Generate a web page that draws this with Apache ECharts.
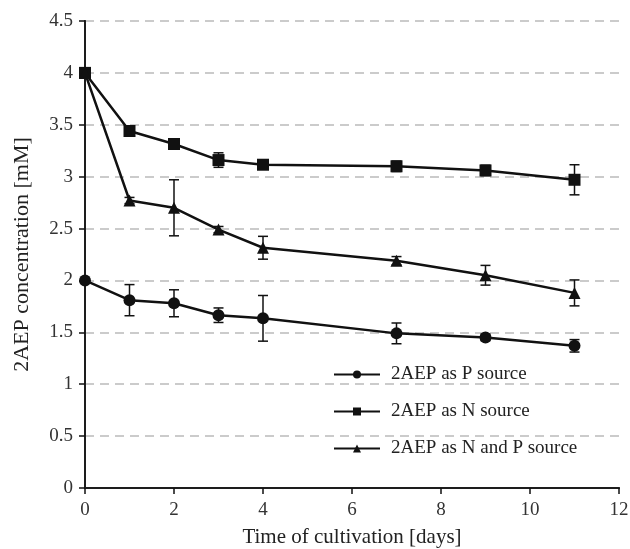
<!DOCTYPE html>
<html><head><meta charset="utf-8">
<script src="https://cdn.jsdelivr.net/npm/echarts@6/dist/echarts.min.js"></script>
<style>html,body{margin:0;padding:0;background:#fff}#c{width:630px;height:549px}</style>
</head><body><div id="c"></div>
<script>
const days = [0, 1, 2, 3, 4, 7, 9, 11];
const pSource = [2.0, 1.81, 1.78, 1.665, 1.635, 1.49, 1.45, 1.37];
const pErr = [0, 0.15, 0.13, 0.07, 0.22, 0.10, 0.03, 0.06];
const nSource = [4.0, 3.44, 3.315, 3.16, 3.115, 3.10, 3.06, 2.97];
const nErr = [0, 0.02, 0.03, 0.07, 0.03, 0.05, 0.05, 0.145];
const npSource = [4.0, 2.77, 2.70, 2.49, 2.315, 2.19, 2.05, 1.88];
const npErr = [0, 0.03, 0.27, 0.03, 0.11, 0.04, 0.095, 0.125];
const seriesNames = ['2AEP as P source', '2AEP as N source', '2AEP as N and P source'];
const xTicks = [0, 2, 4, 6, 8, 10, 12];
const yTicks = [0, 0.5, 1, 1.5, 2, 2.5, 3, 3.5, 4, 4.5];

const font = 'Liberation Serif';
const chart = echarts.init(document.getElementById('c'));

function pairs(vals) { return days.map((d, i) => [d, vals[i]]); }
function errData(vals, errs) {
  return days.map((d, i) => [d, vals[i] - errs[i], vals[i] + errs[i]]).filter((r, i) => errs[i] > 0);
}
function errSeries(vals, errs) {
  return {
    type: 'custom', silent: true, z: 3,
    data: errData(vals, errs),
    renderItem: function (params, api) {
      const x = api.value(0);
      const lo = api.coord([x, api.value(1)]);
      const hi = api.coord([x, api.value(2)]);
      const w = 5;
      const st = { stroke: '#111', lineWidth: 1.5 };
      return { type: 'group', children: [
        { type: 'line', shape: { x1: lo[0], y1: lo[1], x2: hi[0], y2: hi[1] }, style: st },
        { type: 'line', shape: { x1: lo[0] - w, y1: lo[1], x2: lo[0] + w, y2: lo[1] }, style: st },
        { type: 'line', shape: { x1: hi[0] - w, y1: hi[1], x2: hi[0] + w, y2: hi[1] }, style: st }
      ]};
    }
  };
}
function lineSeries(name, vals, symbol, size) {
  return {
    name: name, type: 'line', data: pairs(vals), symbol: symbol, symbolSize: size,
    lineStyle: { color: '#111', width: 2.5 }, itemStyle: { color: '#111' }, z: 4
  };
}

chart.setOption({
  animation: false,
  backgroundColor: '#fff',
  grid: { left: 85, right: 11, top: 21, bottom: 61, containLabel: false, outerBoundsMode: 'none' },
  xAxis: [{
    type: 'value', min: 0, max: 12, interval: 2,
    name: 'Time of cultivation [days]', nameLocation: 'middle', nameGap: 39,
    nameTextStyle: { fontFamily: font, fontSize: 21, color: '#222' },
    axisLine: { lineStyle: { color: '#111', width: 2 } },
    axisTick: { show: true, inside: false, length: 6, lineStyle: { color: '#111', width: 1.5 } },
    axisLabel: { fontFamily: font, fontSize: 19, color: '#333', margin: 13,
      formatter: v => xTicks.includes(v) ? String(v) : '' },
    splitLine: { show: false }
  }, {
    type: 'value', min: 0, max: 12, position: 'top',
    axisLine: { show: true, lineStyle: { color: '#222', width: 1.5 } },
    axisTick: { show: false }, axisLabel: { show: false }, splitLine: { show: false }
  }],
  yAxis: [{
    type: 'value', min: 0, max: 4.5, interval: 0.5,
    name: '2AEP concentration [mM]', nameLocation: 'middle', nameGap: 52, nameRotate: 90,
    nameTextStyle: { fontFamily: font, fontSize: 22, color: '#222' },
    axisLine: { show: true, lineStyle: { color: '#111', width: 2 } },
    axisTick: { show: true, inside: false, length: 6, lineStyle: { color: '#111', width: 1.5 } },
    axisLabel: { fontFamily: font, fontSize: 19, color: '#333', margin: 12,
      formatter: v => yTicks.includes(v) ? String(v) : '' },
    splitLine: {
      show: true,
      lineStyle: { color: '#bbb', type: [9, 6], width: 1.5 }
    }
  }, {
    type: 'value', min: 0, max: 4.5, position: 'right',
    axisLine: { show: true, lineStyle: { color: '#222', width: 1.5 } },
    axisTick: { show: false }, axisLabel: { show: false }, splitLine: { show: false }
  }],
  legend: {
    orient: 'vertical', left: 328, top: 360, itemGap: 18,
    itemWidth: 46, itemHeight: 10,
    data: seriesNames,
    textStyle: { fontFamily: font, fontSize: 19, color: '#222', padding: [0, 0, 0, 6] }
  },
  series: [
    lineSeries(seriesNames[0], pSource, 'circle', 12),
    lineSeries(seriesNames[1], nSource, 'rect', 12),
    lineSeries(seriesNames[2], npSource, 'triangle', 12),
    errSeries(pSource, pErr),
    errSeries(nSource, nErr),
    errSeries(npSource, npErr)
  ]
});
</script></body></html>
